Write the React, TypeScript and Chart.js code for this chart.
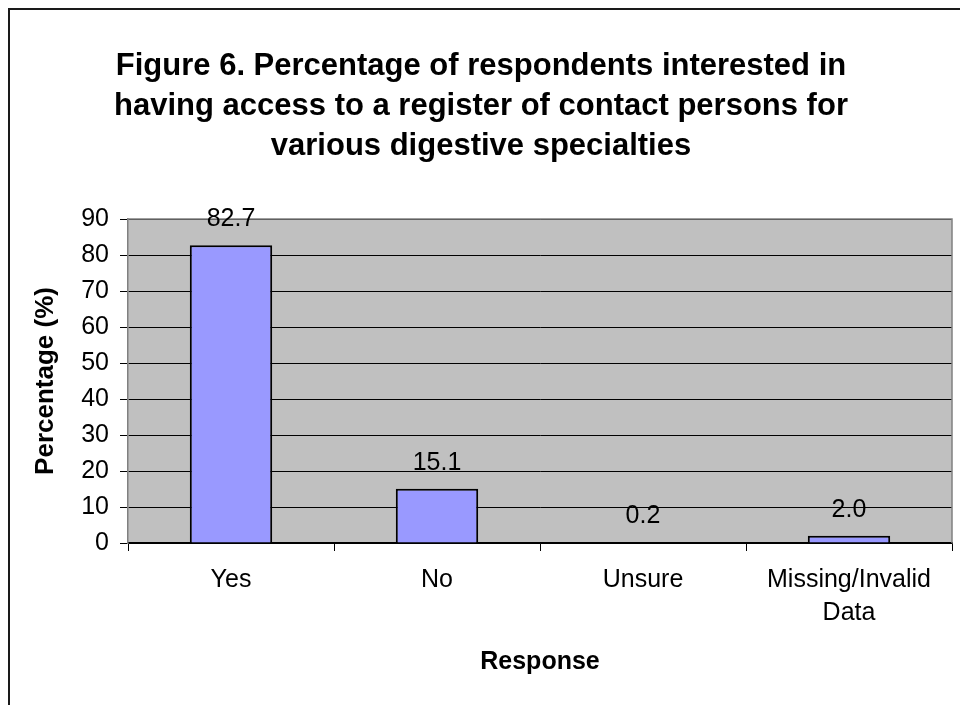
import React, { useEffect, useRef } from "react";
import { Chart, registerables } from "chart.js";

Chart.register(...registerables);

const categories: string[][] = [["Yes"], ["No"], ["Unsure"], ["Missing/Invalid", "Data"]];
const values: number[] = [82.7, 15.1, 0.2, 2.0];
const valueLabels: string[] = ["82.7", "15.1", "0.2", "2.0"];
const yMin = 0;
const yMax = 90;
const yStep = 10;
const titleLines: string[] = [
  "Figure 6. Percentage of respondents interested in",
  "having access to a register of contact persons for",
  "various digestive specialties",
];
const yTitle = "Percentage (%)";
const xTitle = "Response";

const FONT = "'Liberation Sans', Arial, sans-serif";

const decorPlugin = {
  id: "decor",
  beforeDraw(chart: any) {
    const { ctx, chartArea, width, height } = chart;
    ctx.save();
    ctx.fillStyle = "#ffffff";
    ctx.fillRect(0, 0, width, height);
    ctx.fillStyle = "#C0C0C0";
    ctx.fillRect(chartArea.left, chartArea.top, chartArea.right - chartArea.left, chartArea.bottom - chartArea.top);
    // outer frame
    ctx.strokeStyle = "#1a1a1a";
    ctx.lineWidth = 2;
    ctx.beginPath();
    ctx.moveTo(9, height + 2);
    ctx.lineTo(9, 9);
    ctx.lineTo(width + 2, 9);
    ctx.stroke();
    ctx.restore();
  },
  afterDraw(chart: any) {
    const { ctx, chartArea } = chart;
    ctx.save();
    // plot border top & right
    ctx.strokeStyle = "#808080";
    ctx.lineWidth = 1.5;
    ctx.beginPath();
    ctx.moveTo(chartArea.left, chartArea.top);
    ctx.lineTo(chartArea.right, chartArea.top);
    ctx.lineTo(chartArea.right, chartArea.bottom);
    ctx.stroke();

    // value labels
    const meta = chart.getDatasetMeta(0);
    ctx.fillStyle = "#000";
    ctx.font = `25px ${FONT}`;
    ctx.textAlign = "center";
    ctx.textBaseline = "middle";
    meta.data.forEach((bar: any, i: number) => {
      ctx.fillText(valueLabels[i], bar.x, bar.y - 26);
    });

    // title
    ctx.font = `bold 31px ${FONT}`;
    ctx.textBaseline = "alphabetic";
    titleLines.forEach((line, i) => {
      ctx.fillText(line, 481, 75 + i * 40);
    });

    // axis titles
    ctx.font = `bold 25px ${FONT}`;
    ctx.textBaseline = "middle";
    ctx.fillText(xTitle, (chartArea.left + chartArea.right) / 2, 662);
    ctx.font = `bold 26px ${FONT}`;
    ctx.translate(46, (chartArea.top + chartArea.bottom) / 2);
    ctx.rotate(-Math.PI / 2);
    ctx.fillText(yTitle, 0, 0);
    ctx.restore();
  },
};

export default function App() {
  const ref = useRef<HTMLCanvasElement | null>(null);
  useEffect(() => {
    if (!ref.current) return;
    const chart = new Chart(ref.current, {
      type: "bar",
      data: {
        labels: categories,
        datasets: [
          {
            data: values,
            backgroundColor: "#9999FF",
            borderColor: "#000000",
            borderWidth: 2,
            barPercentage: 0.8,
            categoryPercentage: 0.5,
          },
        ],
      },
      options: {
        animation: false,
        responsive: true,
        maintainAspectRatio: false,
        devicePixelRatio: 1,
        layout: { padding: { top: 219, left: 0, right: 8, bottom: 0 } },
        plugins: {
          legend: { display: false },
          title: { display: false },
          tooltip: { enabled: false },
        },
        scales: {
          x: {
            offset: true,
            grid: {
              offset: true,
              drawOnChartArea: false,
              drawTicks: true,
              tickLength: 8,
              color: "#000000",
              lineWidth: 1,
            },
            border: { display: true, color: "#000000", width: 1.5 },
            ticks: {
              color: "#000000",
              font: { family: FONT, size: 25, lineHeight: 1.32 },
              padding: 13,
              maxRotation: 0,
              autoSkip: false,
            },
            afterFit(scale: any) {
              scale.height = 162;
            },
          },
          y: {
            min: yMin,
            max: yMax,
            grid: {
              color: "#000000",
              lineWidth: 1,
              drawTicks: true,
              tickLength: 8,
            },
            border: { display: true, color: "#808080", width: 1.5 },
            ticks: {
              stepSize: yStep,
              color: "#000000",
              font: { family: FONT, size: 25 },
              padding: 11,
            },
            afterFit(scale: any) {
              scale.width = 128;
            },
          },
        },
      },
      plugins: [decorPlugin],
    });
    return () => chart.destroy();
  }, []);
  return (
    <div style={{ position: "fixed", left: 0, top: 0, width: 960, height: 705 }}>
      <canvas ref={ref} />
    </div>
  );
}
